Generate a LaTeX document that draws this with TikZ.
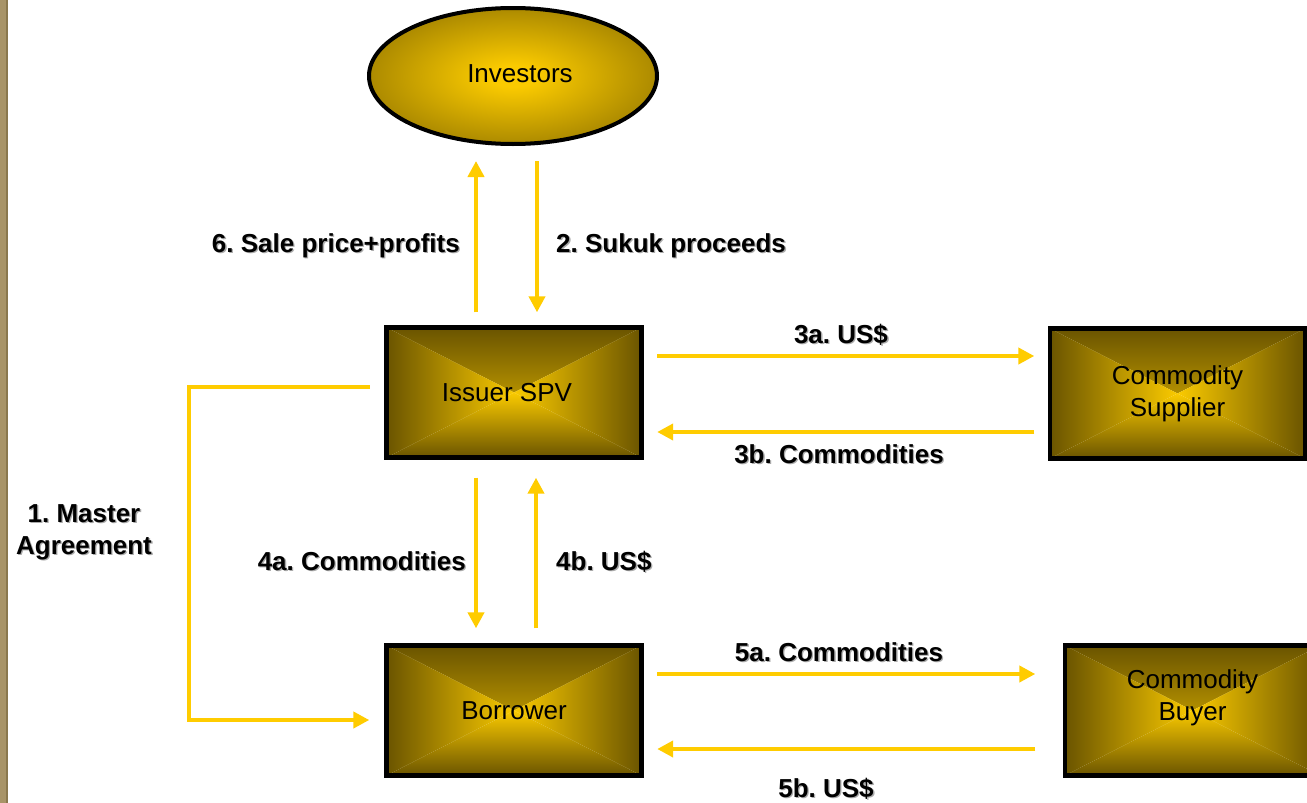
\documentclass[tikz,border=0pt]{standalone}
\usepackage{fontspec}
\setmainfont{Liberation Sans}
\usetikzlibrary{arrows.meta,calc,shapes.geometric}
\definecolor{boxgold}{RGB}{250,202,0}
\definecolor{boxdark}{RGB}{106,84,0}
\definecolor{ellmid}{RGB}{172,138,0}
\definecolor{flowyellow}{RGB}{255,204,0}
\definecolor{stripbrown}{RGB}{168,148,104}
\definecolor{stripdark}{RGB}{138,120,78}
\definecolor{shadowgray}{RGB}{170,170,170}
\pgfdeclareradialshading{ellgold}{\pgfpoint{0bp}{0bp}}{color(0bp)=(boxgold); color(4bp)=(boxgold); color(25bp)=(ellmid); color(46bp)=(boxdark); color(50bp)=(boxdark)}
\newcommand{\shd}[1]{\leavevmode\rlap{\hspace{1.3pt}\raisebox{-1.3pt}{\textcolor{shadowgray}{#1}}}#1}
\frenchspacing
\tikzset{
  boxfill/.style={
    path picture={
      \shade[top color=boxdark,bottom color=boxgold]
        (path picture bounding box.north west) -- (path picture bounding box.north east)
        -- (path picture bounding box.center) -- cycle;
      \shade[bottom color=boxdark,top color=boxgold]
        (path picture bounding box.south west) -- (path picture bounding box.south east)
        -- (path picture bounding box.center) -- cycle;
      \shade[left color=boxdark,right color=boxgold]
        (path picture bounding box.north west) -- (path picture bounding box.south west)
        -- (path picture bounding box.center) -- cycle;
      \shade[right color=boxdark,left color=boxgold]
        (path picture bounding box.north east) -- (path picture bounding box.south east)
        -- (path picture bounding box.center) -- cycle;
    }},
  goldbox/.style={rectangle, boxfill, inner sep=0pt,
    postaction={draw=black, line width=4.5pt},
    align=center, minimum width=255pt, minimum height=130pt,
    font=\fontsize{26}{32}\selectfont},
  goldell/.style={ellipse, shade, shading=ellgold, draw=black, line width=4pt,
    inner sep=0pt, minimum width=288pt, minimum height=136pt,
    font=\fontsize{26}{32}\selectfont},
  flow/.style={draw=flowyellow, line width=4pt, -{Triangle[length=16pt,width=16pt]}},
  lbl/.style={inner sep=0pt, font=\bfseries\fontsize{26}{32}\selectfont}
}
\begin{document}
\begin{tikzpicture}[x=1pt,y=-1pt]
\useasboundingbox[fill=white] (0,0) rectangle (1307,803);
% left strip
\fill[stripbrown] (0,0) rectangle (8,803);
\fill[stripdark] (6,0) rectangle (8,803);

% nodes
\node[goldell] (inv) at (513,76) {\raisebox{4pt}{\hspace{14pt}Investors}};
\node[goldbox] (spv) at (514,392.5) {Issuer SPV\hspace{14pt}};
\node[goldbox] (sup) at (1177.5,393.5) {Commodity\\Supplier};
\node[goldbox] (bor) at (514,710.5) {Borrower};
\node[goldbox] (buy) at (1192.5,710.5) {\raisebox{6.5pt}[0pt][0pt]{\begin{tabular}{@{}c@{}}Commodity\\Buyer\end{tabular}}};

% connectors
\draw[flow] ($(spv.north)+(-38,-15)$) -- ($(spv.north |- inv.south)+(-38,15)$);
\draw[flow] ($(spv.north |- inv.south)+(23,15)$) -- ($(spv.north)+(23,-15)$);
\draw[flow] ($(spv.east)+(15.5,-36.5)$) -- ($(sup.west)+(-15.5,-37.5)$);
\draw[flow] ($(sup.west)+(-15.5,38.5)$) -- ($(spv.east)+(15.5,39.5)$);
\draw[flow] ($(spv.south)+(-38,20)$) -- ($(bor.north)+(-38,-17)$);
\draw[flow] ($(bor.north)+(22,-17)$) -- ($(spv.south)+(22,20)$);
\draw[flow] ($(bor.east)+(15.5,-36.5)$) -- ($(buy.west)+(-29.5,-36.5)$);
\draw[flow] ($(buy.west)+(-29.5,38.5)$) -- ($(bor.east)+(15.5,38.5)$);
\draw[flow] ($(spv.west)+(-16.5,-5.5)$) -| (189,560) |- ($(bor.west)+(-17,9.5)$);

% labels
\node[lbl, anchor=base east] (l6) at (460,252) {\shd{6. Sale price+profits}};
\node[lbl, anchor=base west] (l2) at (556,252) {\shd{2. Sukuk proceeds}};
\node[lbl, anchor=base] (l3a) at (841,343) {\shd{3a. US\$}};
\node[lbl, anchor=base] (l3b) at (839,463) {\shd{3b. Commodities}};
\node[lbl, anchor=base east] (l4a) at (466,570) {\shd{4a. Commodities}};
\node[lbl, anchor=base west] (l4b) at (556,570) {\shd{4b. US\$}};
\node[lbl, anchor=base] (l5a) at (839,661) {\shd{5a. Commodities}};
\node[lbl, anchor=base] (l5b) at (826,797) {\shd{5b. US\$}};
\node[lbl, anchor=north, align=center] (l1) at (84,504) {\shd{1. Master}\\\shd{Agreement}};
\end{tikzpicture}
\end{document}
